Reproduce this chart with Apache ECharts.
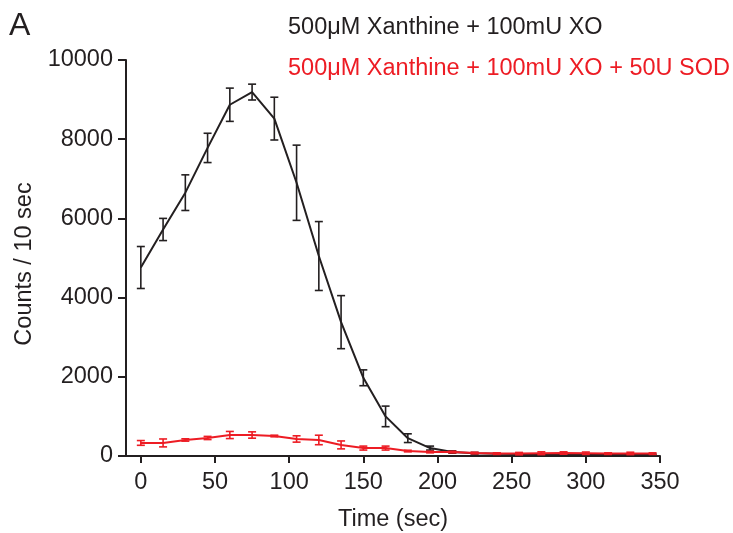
<!DOCTYPE html>
<html>
<head>
<meta charset="utf-8">
<script src="https://cdn.jsdelivr.net/npm/echarts@6/dist/echarts.min.js"></script>
<style>html,body{margin:0;padding:0;background:#fff;}#c{width:733px;height:533px;}</style>
</head>
<body>
<div id="c"></div>
<script>
var times = [0,15,30,45,60,75,90,105,120,135,150,165,180,195,210,225,240,255,270,285,300,315,330,345];
var xoMean = [4760,5720,6650,7780,8870,9190,8520,6900,5050,3380,1975,1000,450,200,100,70,55,50,45,45,40,40,35,35];
var xoErr  = [530,280,450,370,420,200,540,950,870,670,200,260,110,50,30,20,15,15,15,15,15,15,15,15];
var sodMean = [330,330,405,455,530,530,505,430,405,280,200,200,125,100,100,75,60,60,70,75,70,60,65,60];
var sodErr  = [60,100,30,40,90,80,20,80,120,100,50,50,20,20,20,20,20,30,35,30,30,20,30,20];
var xTicks = [0,50,100,150,200,250,300,350];
var label1 = '500\u03bcM Xanthine + 100mU XO';
var label2 = '500\u03bcM Xanthine + 100mU XO + 50U SOD';

var BLACK = '#231f20', RED = '#ed1c24';
var FONT = '"Liberation Sans", Arial, sans-serif';
var FS = 23.5;

function pairs(xs, ys){ return xs.map(function(x,i){ return [x, ys[i]]; }); }
function errData(xs, m, e){ return xs.map(function(x,i){ return [x, m[i]-e[i], m[i]+e[i]]; }); }
function errSeries(data, color, z){
  return {
    type: 'custom', data: data, z: z, silent: true,
    encode: {x: 0, y: [1,2]},
    renderItem: function(params, api){
      var x = api.value(0);
      var lo = api.coord([x, api.value(1)]);
      var hi = api.coord([x, api.value(2)]);
      var w = 4;
      var st = {stroke: color, lineWidth: 1.6};
      return {type: 'group', children: [
        {type: 'line', shape: {x1: lo[0], y1: lo[1], x2: hi[0], y2: hi[1]}, style: st},
        {type: 'line', shape: {x1: lo[0]-w, y1: lo[1], x2: lo[0]+w, y2: lo[1]}, style: st},
        {type: 'line', shape: {x1: hi[0]-w, y1: hi[1], x2: hi[0]+w, y2: hi[1]}, style: st}
      ]};
    }
  };
}

var chart = echarts.init(document.getElementById('c'), null, {renderer: 'canvas'});
chart.setOption({
  animation: false,
  backgroundColor: '#fff',
  grid: {left: 126, right: 73, top: 60, bottom: 77, containLabel: false, outerBoundsMode: 'none'},
  graphic: [
    {type: 'text', left: 9, top: 10, style: {text: 'A', fontSize: 32, fontFamily: FONT, fill: BLACK}},
    {type: 'text', left: 288, top: 16, style: {text: label1, fontSize: FS, fontFamily: FONT, fill: BLACK}},
    {type: 'text', left: 288, top: 57, style: {text: label2, fontSize: FS, fontFamily: FONT, fill: RED}}
  ],
  xAxis: {
    type: 'value', min: -10, max: 350,
    name: 'Time (sec)', nameLocation: 'middle', nameGap: 52,
    nameTextStyle: {fontSize: FS, fontFamily: FONT, color: BLACK},
    axisLine: {onZero: false, lineStyle: {color: BLACK, width: 2}},
    axisTick: {show: true, length: 7, lineStyle: {color: BLACK, width: 2}, customValues: xTicks},
    axisLabel: {fontSize: FS, fontFamily: FONT, color: BLACK, margin: 15, customValues: xTicks,
                formatter: function(v){ return String(v); }},
    splitLine: {show: false}
  },
  yAxis: {
    type: 'value', min: 0, max: 10000, interval: 2000,
    name: 'Counts / 10 sec', nameLocation: 'middle', nameGap: 88,
    nameTextStyle: {fontSize: FS, fontFamily: FONT, color: BLACK, padding: [0, 12, 0, 0]},
    axisLine: {show: true, onZero: false, lineStyle: {color: BLACK, width: 2}},
    axisTick: {show: true, length: 8, lineStyle: {color: BLACK, width: 2}},
    axisLabel: {fontSize: FS, fontFamily: FONT, color: BLACK, margin: 13,
                formatter: function(v){ return String(v); }},
    splitLine: {show: false}
  },
  series: [
    {type: 'line', name: label1, data: pairs(times, xoMean), showSymbol: false, symbol: 'none',
     lineStyle: {color: BLACK, width: 2}, z: 2},
    errSeries(errData(times, xoMean, xoErr), BLACK, 3),
    {type: 'line', name: label2, data: pairs(times, sodMean), showSymbol: false, symbol: 'none',
     lineStyle: {color: RED, width: 2}, z: 4},
    errSeries(errData(times, sodMean, sodErr), RED, 5)
  ]
});
</script>
</body>
</html>
